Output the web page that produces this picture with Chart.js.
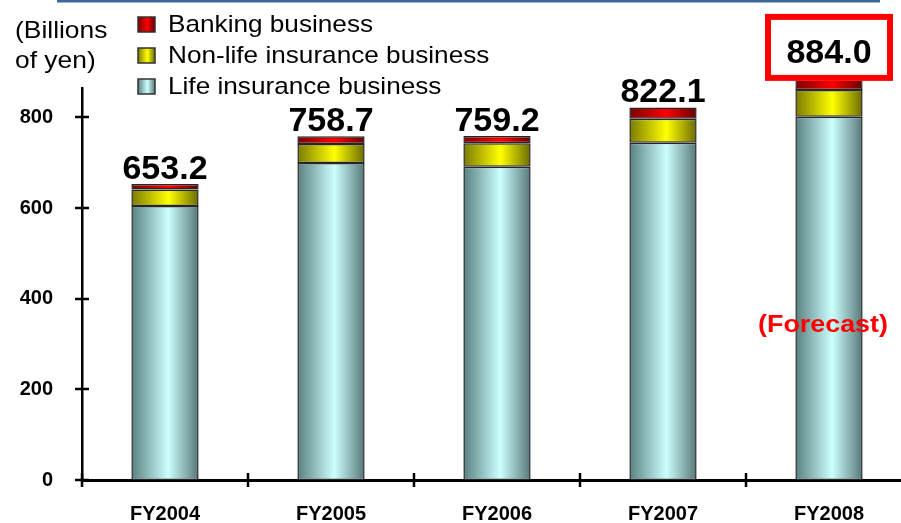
<!DOCTYPE html>
<html>
<head>
<meta charset="utf-8">
<title>Ordinary income by business</title>
<script src="https://cdn.jsdelivr.net/npm/chart.js@4.4.1/dist/chart.umd.min.js"></script>
<style>
  html, body { margin: 0; padding: 0; background: #fff; overflow: hidden; }
  #wrap { width: 912px; height: 523px; }
</style>
</head>
<body>
<div id="wrap"><canvas id="incomeChart" width="912" height="523"></canvas></div>
<script>
// Datos por ejercicio (miles de millones de yenes)
const years = ['FY2004', 'FY2005', 'FY2006', 'FY2007', 'FY2008'];
const lifeInsurance = [604.7, 699.6, 691.5, 744.0, 801.8];
const nonLifeInsurance = [36.2, 42.0, 51.5, 53.0, 58.9];
const banking = [12.3, 17.1, 16.2, 25.1, 23.3];
const totals = [653.2, 758.7, 759.2, 822.1, 884.0];
const yTicks = [0, 200, 400, 600, 800];
const seriesNames = ['Life insurance business', 'Non-life insurance business', 'Banking business'];
const unitLines = ['(Billions', 'of yen)'];
const forecastLabel = '(Forecast)';
const forecastIndex = 4;

const FONT = "'Liberation Sans', Arial, sans-serif";
const BAR_FRACTION = 0.405;

// Colores: borde oscuro, centro claro, borde oscuro
const palettes = [
    ['#5a8080', '#ccffff', '#587777'],
    ['#7a7a00', '#ffff00', '#6a6a00'],
    ['#7a0000', '#ff0000', '#660000']
];

function cylinderFill(ctx2d, x0, x1, stops) {
    const g = ctx2d.createLinearGradient(x0, 0, x1, 0);
    g.addColorStop(0, stops[0]);
    g.addColorStop(0.55, stops[1]);
    g.addColorStop(1, stops[2]);
    return g;
}

function barGradient(stops) {
    return (context) => {
        const chart = context.chart;
        const xScale = chart.scales.x;
        if (!chart.chartArea || !xScale || context.dataIndex === undefined) {
            return stops[1];
        }
        const step = xScale.getPixelForValue(1) - xScale.getPixelForValue(0);
        const cx = xScale.getPixelForValue(context.dataIndex);
        const half = step * BAR_FRACTION / 2;
        return cylinderFill(chart.ctx, cx - half, cx + half, stops);
    };
}

function stretchedText(ctx, text, x, y, scaleX, align) {
    ctx.save();
    ctx.translate(x, y);
    ctx.scale(scaleX, 1);
    ctx.textAlign = align;
    ctx.fillText(text, 0, 0);
    ctx.restore();
}

// Fondo blanco y la línea azul superior
const backdrop = {
    id: 'backdrop',
    beforeDraw(chart) {
        const ctx = chart.ctx;
        ctx.save();
        ctx.fillStyle = '#ffffff';
        ctx.fillRect(0, 0, chart.width, chart.height);
        ctx.fillStyle = '#3a6898';
        ctx.fillRect(57, 0, 823, 2.5);
        ctx.restore();
    }
};

// Marcas de los ejes que cruzan la línea
const crossTicks = {
    id: 'crossTicks',
    afterDraw(chart) {
        const { ctx, chartArea, scales: { x, y } } = chart;
        ctx.save();
        ctx.strokeStyle = '#000';
        ctx.lineWidth = 2.5;
        yTicks.forEach(v => {
            const py = Math.round(y.getPixelForValue(v));
            ctx.beginPath();
            ctx.moveTo(chartArea.left - 7, py);
            ctx.lineTo(chartArea.left + 7, py);
            ctx.stroke();
        });
        const step = x.getPixelForValue(1) - x.getPixelForValue(0);
        for (let i = 0; i <= years.length; i++) {
            const px = Math.round(x.getPixelForValue(i) - step / 2);
            ctx.beginPath();
            ctx.moveTo(px, chartArea.bottom - 7);
            ctx.lineTo(px, chartArea.bottom + 7);
            ctx.stroke();
        }
        ctx.restore();
    }
};

// Leyenda y unidad en la esquina superior izquierda
const legendBlock = {
    id: 'legendBlock',
    afterDraw(chart) {
        const ctx = chart.ctx;
        ctx.save();
        ctx.fillStyle = '#000';
        ctx.font = `24px ${FONT}`;
        ctx.textBaseline = 'alphabetic';
        stretchedText(ctx, unitLines[0], 15, 38, 1.1, 'left');
        stretchedText(ctx, unitLines[1], 15, 68, 1.1, 'left');

        const order = [2, 1, 0];
        order.forEach((ds, row) => {
            const top = 17 + row * 31;
            ctx.fillStyle = cylinderFill(ctx, 138, 155, palettes[ds]);
            ctx.fillRect(138, top, 17, 15);
            ctx.strokeStyle = '#333';
            ctx.lineWidth = 1.5;
            ctx.strokeRect(138, top, 17, 15);
            ctx.fillStyle = '#000';
            stretchedText(ctx, seriesNames[ds], 168, top + 15, 1.09, 'left');
        });
        ctx.restore();
    }
};

// Totales sobre cada barra, recuadro y nota de previsión
const totalLabels = {
    id: 'totalLabels',
    afterDatasetsDraw(chart) {
        const { ctx, scales: { x, y } } = chart;
        ctx.save();
        ctx.fillStyle = '#000';
        ctx.font = `bold 34px ${FONT}`;
        ctx.textAlign = 'center';
        ctx.textBaseline = 'alphabetic';
        totals.forEach((t, i) => {
            const cx = x.getPixelForValue(i);
            const top = y.getPixelForValue(t);
            const text = t.toFixed(1);
            if (i === forecastIndex) {
                const outerBottom = top + 1.5;
                const outerTop = outerBottom - 67;
                ctx.fillStyle = '#fff';
                ctx.fillRect(cx - 64, outerTop, 128, 67);
                ctx.strokeStyle = '#ff0000';
                ctx.lineWidth = 6;
                ctx.strokeRect(cx - 61, outerTop + 3, 122, 61);
                ctx.fillStyle = '#000';
                ctx.fillText(text, cx, outerBottom - 18);
            } else {
                ctx.fillText(text, cx, top - 5);
            }
        });

        const fx = x.getPixelForValue(forecastIndex) - 6;
        ctx.fillStyle = '#ff0000';
        ctx.font = `bold 24px ${FONT}`;
        stretchedText(ctx, forecastLabel, fx, 332, 1.12, 'center');
        ctx.restore();
    }
};

const datasets = [lifeInsurance, nonLifeInsurance, banking].map((values, i) => ({
    label: seriesNames[i],
    data: values,
    backgroundColor: barGradient(palettes[i]),
    borderColor: '#262626',
    borderWidth: 1.5,
    borderSkipped: false,
    categoryPercentage: 1,
    barPercentage: BAR_FRACTION,
    clip: false
}));

const tickFont = { family: FONT, size: 20, weight: 'bold' };

new Chart(document.getElementById('incomeChart').getContext('2d'), {
    type: 'bar',
    data: { labels: years, datasets: datasets },
    options: {
        responsive: false,
        animation: false,
        devicePixelRatio: 1,
        layout: { padding: { top: 88, right: 0, bottom: 0, left: 0 } },
        plugins: {
            legend: { display: false },
            tooltip: { enabled: false }
        },
        scales: {
            x: {
                stacked: true,
                grid: { display: false, drawTicks: false },
                border: { display: true, color: '#000', width: 3 },
                ticks: { color: '#000', font: tickFont, padding: 22, maxRotation: 0, autoSkip: false },
                afterFit(scale) { scale.height = 43; }
            },
            y: {
                stacked: true,
                min: 0,
                max: 865,
                grid: { display: false, drawTicks: false },
                border: { display: true, color: '#000', width: 2.5 },
                ticks: { color: '#000', font: tickFont, padding: 29 },
                afterBuildTicks(scale) { scale.ticks = yTicks.map(v => ({ value: v })); },
                afterFit(scale) { scale.width = 82; }
            }
        }
    },
    plugins: [backdrop, totalLabels, crossTicks, legendBlock]
});
</script>
</body>
</html>
